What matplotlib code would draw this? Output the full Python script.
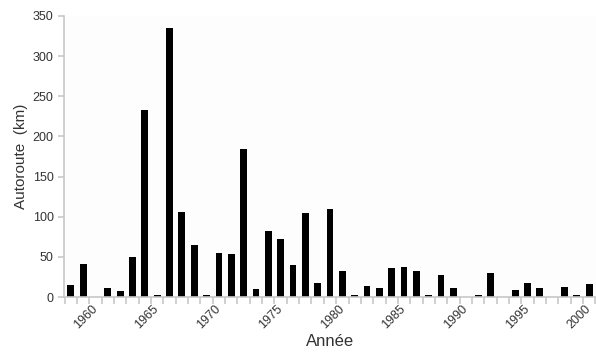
import matplotlib.pyplot as plt
import numpy as np

plt.rcParams['font.family'] = ['Liberation Sans', 'DejaVu Sans']

# Autoroutes mises en service par année (km)
years = list(range(1958, 2001))
km = [15, 41, 0, 11, 7, 50, 233, 2, 335, 106,
      65, 2, 55, 53, 184, 10, 82, 72, 40, 105,
      18, 110, 32, 2, 14, 11, 36, 37, 32, 2,
      27, 11, 0, 2, 30, 0, 9, 17, 11, 0,
      12, 2, 16]
shown_years = [1960, 1965, 1970, 1975, 1980, 1985, 1990, 1995, 2000]

fig = plt.figure(figsize=(5.96, 3.58), dpi=100)
fig.patch.set_facecolor('white')
ax = fig.add_axes([64 / 596, 1 - 297 / 358, 532 / 596, 281 / 358])
ax.set_facecolor('#fdfdfd')

x = np.arange(len(years))
ax.bar(x, km, width=0.55, color='black')

ax.set_xlim(-0.55, len(years) - 0.45)
ax.set_ylim(0, 350)
ax.set_yticks(range(0, 351, 50))

grey = '#c8c8c8'
for side in ['top', 'right']:
    ax.spines[side].set_visible(False)
for side in ['left', 'bottom']:
    ax.spines[side].set_color(grey)
    ax.spines[side].set_linewidth(1.2)

# ticks between categories, labels every 5 years (nudged left so 2000 fits)
ax.set_xticks(np.arange(len(years) + 1) - 0.5, minor=True)
ax.set_xticks([years.index(y) - 0.35 for y in shown_years])
ax.set_xticklabels([str(y) for y in shown_years], rotation=45,
                   ha='right', va='top', rotation_mode='anchor', fontsize=9, color='#333333')
ax.tick_params(axis='x', which='major', length=0, pad=4)
ax.tick_params(axis='x', which='minor', length=5, color=grey, width=1.2)
ax.tick_params(axis='y', length=4, color=grey, width=1.2, labelsize=9, labelcolor='#333333')

ax.set_ylabel('Autoroute  (km)', fontsize=11, color='#333333', labelpad=3)
ax.set_xlabel('Année', fontsize=12, color='#333333', labelpad=2)

fig.savefig('out.png', dpi=100)
